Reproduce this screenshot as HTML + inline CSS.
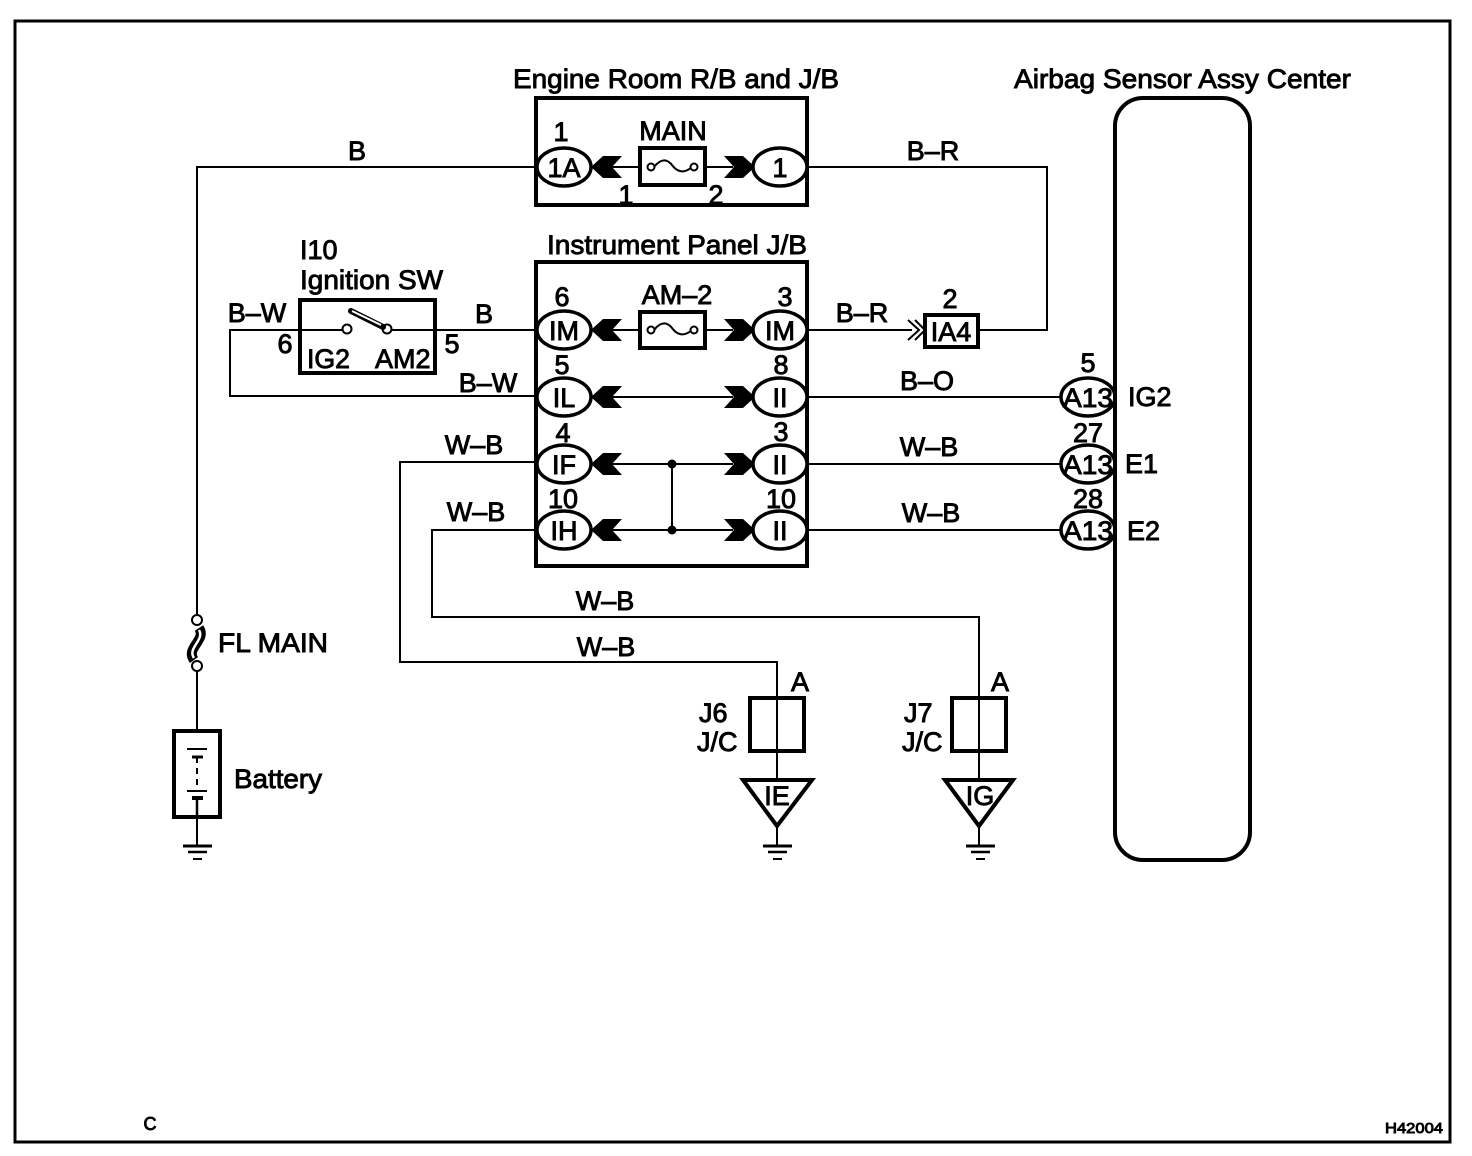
<!DOCTYPE html>
<html><head><meta charset="utf-8"><style>
html,body{margin:0;padding:0;background:#fff}
svg{display:block}
text{font-family:"Liberation Sans",sans-serif;font-size:27px;fill:#000;stroke:#000;stroke-width:.9}
.m{text-anchor:middle}
.w{fill:none;stroke:#000;stroke-width:2}
.b{fill:none;stroke:#000;stroke-width:4}
.e{fill:#fff;stroke:#000;stroke-width:3.5}
</style></head><body>
<svg width="1472" height="1156" viewBox="0 0 1472 1156" xmlns="http://www.w3.org/2000/svg">
<defs>
<path id="la" d="M591 0L603-11H622L612 0L622 11H603Z"/>
<path id="ra" d="M724-11H743L755 0L743 11H724L734 0Z"/>
</defs>
<rect x="15" y="21" width="1435" height="1121" fill="none" stroke="#000" stroke-width="3"/>

<!-- wires -->
<path class="w" d="M536 167H197V620M197 666V731M197 817V846"/>
<path class="w" d="M807 167H1047V330H978M807 330H912M807 397H1062M807 464H1062M807 530H1062"/>
<path class="w" d="M300 330H230V396H536M300 330H342M392 330H536"/>
<path class="w" d="M536 462H400V662H777V780M536 530H432V617H979V780"/>
<path class="w" d="M777 826V846M979 826V846"/>

<!-- boxes -->
<rect x="536" y="98" width="271" height="107" class="b"/>
<rect x="536" y="262" width="271" height="304" class="b"/>
<rect x="300" y="300" width="135" height="73" class="b"/>
<rect x="1115" y="98" width="135" height="762" rx="28" ry="28" class="b"/>
<rect x="750" y="698" width="54" height="53" class="b"/>
<rect x="952" y="698" width="54" height="53" class="b"/>
<rect x="925" y="315" width="53" height="32" class="b"/>
<rect x="174" y="731" width="46" height="86" class="b"/>

<!-- inner connectors -->
<path class="w" d="M612 167H640M705 167H733M612 330H640M705 330H733M612 397H733M612 464H733M612 530H733M672 464V530"/>
<circle cx="672" cy="464" r="4.5"/><circle cx="672" cy="530" r="4.5"/>
<use href="#la" y="167"/><use href="#ra" y="167"/>
<use href="#la" y="330"/><use href="#ra" y="330"/>
<use href="#la" y="397"/><use href="#ra" y="397"/>
<use href="#la" y="464"/><use href="#ra" y="464"/>
<use href="#la" y="530"/><use href="#ra" y="530"/>

<!-- fuses -->
<rect x="640" y="148" width="65" height="37" class="b"/>
<rect x="640" y="312" width="65" height="36" class="b"/>
<path class="w" stroke-width="2.5" d="M654 167C662 157 668 160 672 165C677 172 684 174 692 167"/>
<path class="w" stroke-width="2.5" d="M654 330C662 320 668 323 672 328C677 335 684 337 692 330"/>
<circle cx="651" cy="167" r="3.5" fill="#fff" stroke="#000" stroke-width="2"/>
<circle cx="694" cy="167" r="3.5" fill="#fff" stroke="#000" stroke-width="2"/>
<circle cx="651" cy="330" r="3.5" fill="#fff" stroke="#000" stroke-width="2"/>
<circle cx="694" cy="330" r="3.5" fill="#fff" stroke="#000" stroke-width="2"/>

<!-- ellipses -->
<ellipse cx="564" cy="167" rx="27" ry="19" class="e"/><ellipse cx="780" cy="167" rx="27" ry="19" class="e"/>
<ellipse cx="564" cy="330" rx="27" ry="19" class="e"/><ellipse cx="780" cy="330" rx="27" ry="19" class="e"/>
<ellipse cx="564" cy="397" rx="27" ry="19" class="e"/><ellipse cx="780" cy="397" rx="27" ry="19" class="e"/>
<ellipse cx="564" cy="464" rx="27" ry="19" class="e"/><ellipse cx="780" cy="464" rx="27" ry="19" class="e"/>
<ellipse cx="564" cy="530" rx="27" ry="19" class="e"/><ellipse cx="780" cy="530" rx="27" ry="19" class="e"/>
<ellipse cx="1088" cy="397" rx="27" ry="19" class="e"/>
<ellipse cx="1088" cy="464" rx="27" ry="19" class="e"/>
<ellipse cx="1088" cy="530" rx="27" ry="19" class="e"/>
<rect x="1113" y="370" width="4" height="190"/>

<!-- >> arrow at IA4 -->
<path class="w" d="M908 320L919 330L908 340M915 320L925 330L915 340"/>

<!-- switch -->
<circle cx="347" cy="329" r="4.5" fill="#fff" stroke="#000" stroke-width="2"/>
<circle cx="387" cy="329" r="4.5" fill="#fff" stroke="#000" stroke-width="2"/>
<path d="M351 311L383 327" stroke="#000" stroke-width="6" fill="none" stroke-linecap="round"/>
<path d="M352 311L381 325" stroke="#fff" stroke-width="2" fill="none"/>

<!-- FL main fuse -->
<path d="M199 628C207 640 185 648 194 660" stroke="#000" stroke-width="10" fill="none"/>
<path d="M199 630C205 640 187 648 194 658" stroke="#fff" stroke-width="2.5" fill="none"/>
<circle cx="197" cy="620" r="5" fill="#fff" stroke="#000" stroke-width="2"/>
<circle cx="197" cy="666" r="5" fill="#fff" stroke="#000" stroke-width="2"/>

<!-- battery -->
<path d="M187 749H207" stroke="#000" stroke-width="2"/>
<path d="M192 757H203" stroke="#000" stroke-width="3"/>
<path d="M197 757V791" stroke="#000" stroke-width="2" stroke-dasharray="6 5"/>
<path d="M187 791H207" stroke="#000" stroke-width="2"/>
<path d="M192 798H203" stroke="#000" stroke-width="4"/>
<path d="M197 798V817" stroke="#000" stroke-width="2.5"/>

<!-- grounds -->
<path d="M183 846H212" stroke="#000" stroke-width="3"/><path d="M188 852H207" stroke="#000" stroke-width="2.5"/><path d="M193 859H202" stroke="#000" stroke-width="2"/>
<path d="M763 846H792" stroke="#000" stroke-width="3"/><path d="M768 852H787" stroke="#000" stroke-width="2.5"/><path d="M773 859H782" stroke="#000" stroke-width="2"/>
<path d="M966 846H995" stroke="#000" stroke-width="3"/><path d="M971 852H990" stroke="#000" stroke-width="2.5"/><path d="M976 859H985" stroke="#000" stroke-width="2"/>

<!-- triangles -->
<path d="M743 780H812L777 826Z" class="b"/>
<path d="M945 780H1013L979 826Z" class="b"/>
<path class="w" d="M777 665V780M979 620V780"/>

<!-- text -->
<text x="513" y="88" textLength="326" lengthAdjust="spacingAndGlyphs">Engine Room R/B and J/B</text>
<text x="1014" y="88" textLength="337" lengthAdjust="spacingAndGlyphs">Airbag Sensor Assy Center</text>
<text x="547" y="254" textLength="260" lengthAdjust="spacingAndGlyphs">Instrument Panel J/B</text>
<text x="300" y="259">I10</text>
<text x="300" y="289" textLength="143" lengthAdjust="spacingAndGlyphs">Ignition SW</text>
<text x="673" y="140" class="m">MAIN</text>
<text x="677" y="304" class="m">AM–2</text>
<text x="357" y="160" class="m">B</text>
<text x="933" y="160" class="m">B–R</text>
<text x="257" y="322" class="m">B–W</text>
<text x="484" y="323" class="m">B</text>
<text x="862" y="322" class="m">B–R</text>
<text x="488" y="392" class="m">B–W</text>
<text x="927" y="390" class="m">B–O</text>
<text x="474" y="454" class="m">W–B</text>
<text x="476" y="521" class="m">W–B</text>
<text x="929" y="456" class="m">W–B</text>
<text x="931" y="522" class="m">W–B</text>
<text x="605" y="610" class="m">W–B</text>
<text x="606" y="656" class="m">W–B</text>
<text x="561" y="141" class="m">1</text>
<text x="626" y="204" class="m">1</text>
<text x="716" y="204" class="m">2</text>
<text x="564" y="177" class="m">1A</text>
<text x="780" y="177" class="m">1</text>
<text x="562" y="306" class="m">6</text>
<text x="785" y="306" class="m">3</text>
<text x="562" y="374" class="m">5</text>
<text x="781" y="374" class="m">8</text>
<text x="563" y="442" class="m">4</text>
<text x="781" y="441" class="m">3</text>
<text x="563" y="508" class="m">10</text>
<text x="781" y="508" class="m">10</text>
<text x="564" y="340" class="m">IM</text><text x="780" y="340" class="m">IM</text>
<text x="564" y="407" class="m">IL</text><text x="780" y="407" class="m">II</text>
<text x="564" y="474" class="m">IF</text><text x="780" y="474" class="m">II</text>
<text x="564" y="540" class="m">IH</text><text x="780" y="540" class="m">II</text>
<text x="951" y="341" class="m">IA4</text>
<text x="950" y="308" class="m">2</text>
<text x="285" y="353" class="m">6</text>
<text x="452" y="353" class="m">5</text>
<text x="307" y="368" textLength="43" lengthAdjust="spacingAndGlyphs">IG2</text>
<text x="375" y="368">AM2</text>
<text x="1088" y="372" class="m">5</text>
<text x="1088" y="442" class="m">27</text>
<text x="1088" y="508" class="m">28</text>
<text x="1088" y="407" class="m" textLength="50" lengthAdjust="spacingAndGlyphs">A13</text>
<text x="1088" y="474" class="m" textLength="50" lengthAdjust="spacingAndGlyphs">A13</text>
<text x="1088" y="540" class="m" textLength="50" lengthAdjust="spacingAndGlyphs">A13</text>
<text x="1128" y="406">IG2</text>
<text x="1125" y="473">E1</text>
<text x="1127" y="540">E2</text>
<text x="218" y="652" textLength="110" lengthAdjust="spacingAndGlyphs">FL MAIN</text>
<text x="234" y="788" textLength="88" lengthAdjust="spacingAndGlyphs">Battery</text>
<text x="800" y="691" class="m">A</text>
<text x="1000" y="691" class="m">A</text>
<text x="699" y="722">J6</text>
<text x="697" y="751">J/C</text>
<text x="904" y="722">J7</text>
<text x="902" y="751">J/C</text>
<text x="777" y="805" class="m">IE</text>
<text x="980" y="805" class="m">IG</text>
<text x="150" y="1130" class="m" style="font-size:18px">C</text>
<text x="1385" y="1133" style="font-size:15px" textLength="58" lengthAdjust="spacingAndGlyphs">H42004</text>
</svg>
</body></html>
